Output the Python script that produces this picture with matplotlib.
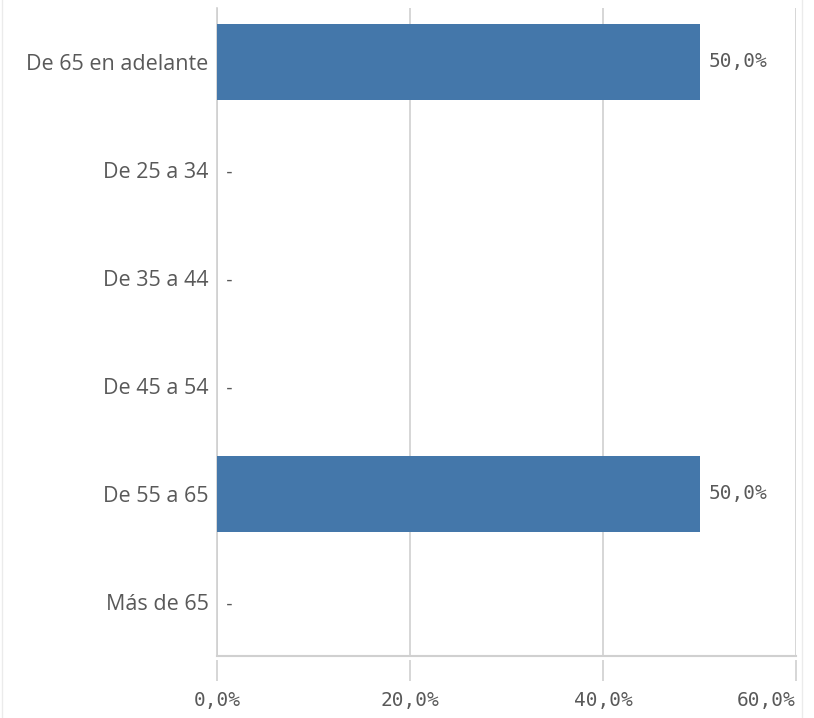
import matplotlib
matplotlib.use("Agg")
import matplotlib.pyplot as plt
from matplotlib.lines import Line2D

categories = ["De 65 en adelante", "De 25 a 34", "De 35 a 44", "De 45 a 54", "De 55 a 65", "Más de 65"]
values = [50.0, 0.0, 0.0, 0.0, 50.0, 0.0]
xticks = [0, 20, 40, 60]
xtick_labels = ["0,0%", "20,0%", "40,0%", "60,0%"]

bar_color = "#4477AA"
text_color = "#595959"
grid_color = "#D0D0D0"

fig = plt.figure(figsize=(8.14, 7.18), dpi=100)
ax = fig.add_axes([217/814, (718-656)/718, (796-217)/814, (656-8)/718])

for s in ["top", "right"]:
    ax.spines[s].set_visible(False)
ax.spines["bottom"].set_position(("outward", 3))
ax.spines["bottom"].set_visible(False)
ax.spines["left"].set_color(grid_color)
ax.spines["left"].set_linewidth(1.2)

ypos = list(range(len(categories)))
ax.barh(ypos, values, height=0.70, color=bar_color, zorder=3)
ax.set_ylim(len(categories) - 0.5, -0.5)
ax.set_xlim(0, 60)

ax.set_yticks(ypos)
ax.set_yticklabels(categories, fontsize=15.5, color=text_color, family=["Open Sans", "DejaVu Sans"])
ax.tick_params(axis="y", length=0, pad=6)

ax.set_xticks(xticks)
xl = ax.set_xticklabels(xtick_labels, fontsize=14, color=text_color, family="DejaVu Sans Mono")
xl[-1].set_horizontalalignment("right")
ax.tick_params(axis="x", length=15, width=1.2, color=grid_color, pad=7)

ax.grid(axis="x", color=grid_color, linewidth=1.2, zorder=0)
ax.axhline(len(categories) - 0.5, color=grid_color, linewidth=1.5, clip_on=False, zorder=1)

for y, v in zip(ypos, values):
    if v > 0:
        ax.text(v + 0.9, y, f"{v:.1f}%".replace(".", ","), va="center", ha="left",
                fontsize=14, color=text_color, family="DejaVu Sans Mono")
    else:
        ax.text(0.7, y + 0.02, "-", va="center", ha="left", fontsize=13, color=text_color,
                family="DejaVu Sans Mono")

# faint outer frame lines
fig.add_artist(Line2D([1.5/814, 1.5/814], [0, 1], color="#EBEBEB", linewidth=1, transform=fig.transFigure))
fig.add_artist(Line2D([801.5/814, 801.5/814], [0, 1], color="#EBEBEB", linewidth=1, transform=fig.transFigure))

fig.savefig("out.png", dpi=100, facecolor="white")
